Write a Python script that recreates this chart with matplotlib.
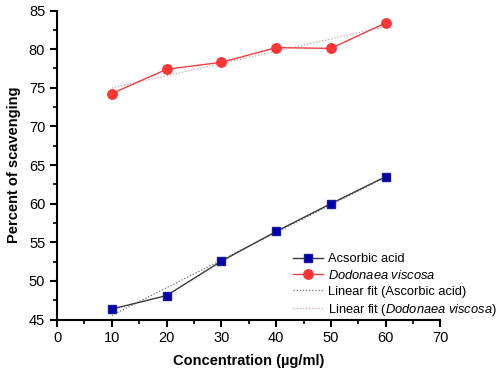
import numpy as np
import matplotlib
matplotlib.use('Agg')
import matplotlib.pyplot as plt
from matplotlib.ticker import MultipleLocator

plt.rcParams['font.family'] = ['Liberation Sans', 'DejaVu Sans']
plt.rcParams['mathtext.fontset'] = 'custom'
plt.rcParams['mathtext.rm'] = 'Liberation Sans'
plt.rcParams['mathtext.it'] = 'Liberation Sans:italic'

# datos
concentration = [10, 20, 30, 40, 50, 60]
ascorbic = [46.35, 48.1, 52.55, 56.4, 60.0, 63.5]
viscosa = [74.25, 77.4, 78.3, 80.2, 80.1, 83.4]

fig = plt.figure(figsize=(4.98, 3.77), dpi=100)
ax = fig.add_axes([0.1145, 0.1525, 0.770, 0.8195])

x = np.array(concentration)
fit_a = np.polyval(np.polyfit(x, ascorbic, 1), x)
fit_v = np.polyval(np.polyfit(x, viscosa, 1), x)

ax.plot(x, ascorbic, color='#3a3a3a', lw=1.0, marker='s', ms=5.5,
        mfc='#0000a8', mec='#1a1a9a', label='Acsorbic acid', zorder=3)
ax.plot(x, viscosa, color='#f04040', lw=1.0, marker='o', ms=6.8,
        mfc='#ff3535', mec='#ff3535', label=r'$\it{Dodonaea\ viscosa}$', zorder=3)
ax.plot(x, fit_a, color='#707070', lw=0.9, ls=(0, (1, 1.5)),
        label='Linear fit (Ascorbic acid)', zorder=2)
ax.plot(x, fit_v, color='#c8a0a8', lw=0.9, ls=(0, (1, 1.5)),
        label=r'Linear fit ($\it{Dodonaea\ viscosa}$)', zorder=2)

ax.set_xlim(0, 70)
ax.set_ylim(45, 85)
ax.xaxis.set_major_locator(MultipleLocator(10))
ax.xaxis.set_minor_locator(MultipleLocator(5))
ax.yaxis.set_major_locator(MultipleLocator(5))
ax.yaxis.set_minor_locator(MultipleLocator(2.5))

for s in ['top', 'right']:
    ax.spines[s].set_visible(False)
for s in ['left', 'bottom']:
    ax.spines[s].set_linewidth(1.5)
ax.tick_params(which='major', direction='out', length=5, width=1.5, labelsize=10.5)
ax.tick_params(which='minor', direction='out', length=3, width=1.2)

ax.set_xlabel('Concentration (µg/ml)', fontsize=10.5, fontweight='bold', labelpad=6)
ax.set_ylabel('Percent of scavenging', fontsize=10.5, fontweight='bold', labelpad=6)

ax.legend(loc='upper left', bbox_to_anchor=(293 / 498, 1 - 253 / 377),
          bbox_transform=fig.transFigure, frameon=False, fontsize=9.3,
          borderpad=0, borderaxespad=0, handlelength=2.3, handletextpad=0.4,
          labelspacing=0.3)

plt.savefig('out.png', dpi=100)
